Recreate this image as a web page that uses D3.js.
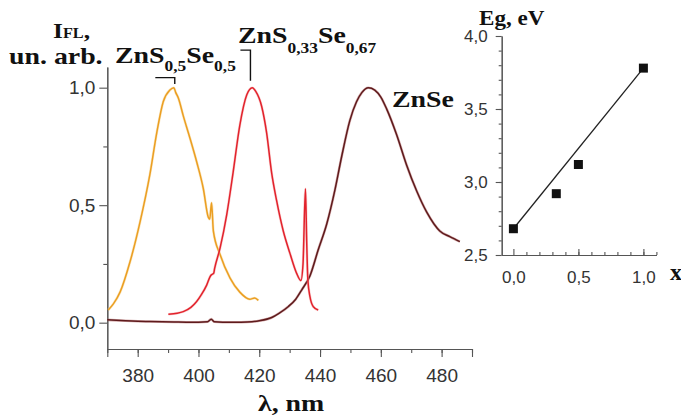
<!DOCTYPE html>
<html lang="en">
  <head>
    <meta charset="UTF-8" />
    <title>ZnS(x)Se(1-x) photoluminescence</title>
    <script src="https://cdn.jsdelivr.net/npm/d3@7"></script>
    <style>
      body { margin: 0; background: #fff; }
      .tick text { font-family: "Liberation Sans", Arial, sans-serif; fill: #333; }
      .lbl { font-family: "Liberation Serif", "Times New Roman", serif; font-weight: bold; fill: #111; }
    </style>
  </head>
  <body>
    <svg width="681" height="419"></svg>
    <script>
      // spectra: wavelength (nm) and normalised intensity
      var orangeNm = [370.3, 372, 374.2, 377.5, 380.8, 384.0, 386.3, 388.4, 390.6, 391.9, 392.5, 393.4, 395.0, 397.2, 399.4, 401.6, 403.2, 403.7, 404.3, 404.9, 407.1, 410.4, 413.6, 416.9, 418.5, 419.7]
      var orangeI = [0.054, 0.08, 0.13, 0.26, 0.43, 0.63, 0.81, 0.94, 0.99, 1.0, 0.98, 0.955, 0.88, 0.785, 0.685, 0.57, 0.45, 0.44, 0.51, 0.39, 0.29, 0.19, 0.13, 0.10, 0.105, 0.095]

      var redNm = [390.1, 393, 395.0, 397.5, 399.4, 401, 402.7, 404.0, 404.4, 405.0, 405.3, 407.1, 409.3, 411.4, 413.6, 415.9, 417.7, 418.8, 420.8, 422.4, 424.1, 425.7, 427.9, 430.1, 432.3, 433.7, 434.4, 435.2, 435.6, 436.0, 436.7, 437.8, 439.4]
      var redI = [0.036, 0.04, 0.047, 0.065, 0.09, 0.12, 0.16, 0.2, 0.205, 0.21, 0.23, 0.317, 0.46, 0.64, 0.84, 0.97, 1.0, 0.985, 0.92, 0.81, 0.635, 0.52, 0.39, 0.295, 0.21, 0.179, 0.25, 0.57, 0.35, 0.18, 0.11, 0.068, 0.054]

      var znseNm = [370, 373, 376, 380, 384, 388, 392, 396, 400, 403, 404.2, 405.2, 408, 412, 416, 420, 424.1, 426.5, 429.5, 432, 434.0, 436.7, 439.4, 442.2, 444.9, 447.1, 449.8, 452, 453.8, 455.9, 458.0, 460, 461.9, 465.2, 468.5, 471.8, 475.1, 477.5, 479.4, 482.7, 486.0]
      var znseI = [0.012, 0.01, 0.008, 0.006, 0.005, 0.004, 0.003, 0.002, 0.002, 0.004, 0.015, 0.004, 0.002, 0.002, 0.003, 0.008, 0.022, 0.04, 0.068, 0.1, 0.14, 0.2, 0.31, 0.42, 0.565, 0.706, 0.86, 0.94, 0.98, 1.0, 0.99, 0.96, 0.91, 0.80, 0.67, 0.56, 0.47, 0.42, 0.39, 0.366, 0.345]

      // inset: band gap vs composition x
      var egX = [0, 0.33, 0.5, 1.0]
      var egY = [2.68, 2.92, 3.12, 3.78]
      var fitX = [0, 1.0]
      var fitY = [2.68, 3.78]

      var mainXTicks = [380, 400, 420, 440, 460, 480]
      var mainYTicks = [0, 0.5, 1.0]
      var insetXTicks = [0, 0.5, 1.0]
      var insetYTicks = [2.5, 3.0, 3.5, 4.0]

      var svg = d3.select('svg')
      var comma = d3.formatLocale({ decimal: ',', thousands: ' ', grouping: [3], currency: ['', ''] }).format('.1f')

      // ---- main plot ----
      var x = d3.scaleLinear().domain([370, 490]).range([107.3, 472])
      var y = d3.scaleLinear().domain([-0.112, 1.088]).range([349, 67])

      function styleAxis(g) {
        g.selectAll('path, line').attr('stroke', '#555').attr('stroke-width', 1.1)
      }

      svg.append('g')
        .attr('transform', 'translate(0,349)')
        .call(d3.axisBottom(x).tickValues(d3.range(370, 491, 10)).tickSize(4).tickSizeOuter(0).tickFormat(''))
        .call(styleAxis)
      svg.append('g')
        .attr('transform', 'translate(0,349)')
        .call(d3.axisBottom(x).tickValues(mainXTicks).tickSize(8).tickPadding(12).tickFormat(d3.format('d')))
        .call(styleAxis)
        .selectAll('text').style('font-size', '19px')

      svg.append('g')
        .attr('transform', 'translate(107.3,0)')
        .call(d3.axisLeft(y).tickValues([0.25, 0.75]).tickSize(4).tickSizeOuter(0).tickFormat(''))
        .call(styleAxis)
      svg.append('g')
        .attr('transform', 'translate(107.3,0)')
        .call(d3.axisLeft(y).tickValues(mainYTicks).tickSize(8).tickPadding(4).tickSizeOuter(0).tickFormat(comma))
        .call(styleAxis)
        .selectAll('text').style('font-size', '19px')

      var line = d3.line()
        .x(function(d) { return x(d[0]) })
        .y(function(d) { return y(d[1]) })
        .curve(d3.curveMonotoneX)

      var spectra = [
        { nm: znseNm, I: znseI, color: '#5e1a1c', halo: '#b06060' },
        { nm: orangeNm, I: orangeI, color: '#eb9e22', halo: '#f6d080' },
        { nm: redNm, I: redI, color: '#e2222c', halo: '#f4a0a0' }
      ]
      spectra.forEach(function(s) {
        var pts = d3.zip(s.nm, s.I)
        svg.append('path').attr('d', line(pts)).attr('fill', 'none')
          .attr('stroke', s.halo).attr('stroke-width', 2.6).attr('stroke-opacity', 0.5)
        svg.append('path').attr('d', line(pts)).attr('fill', 'none')
          .attr('stroke', s.color).attr('stroke-width', 1.5)
      })

      // bracket pointers for the labels
      var bracket = d3.line().x(function(d) { return x(d[0]) }).y(function(d) { return y(d[1]) })
      svg.append('path').attr('d', bracket([[385.8, 1.043], [392.2, 1.043], [392.2, 1.016]]))
        .attr('fill', 'none').attr('stroke', '#111').attr('stroke-width', 1.4)
      svg.append('path').attr('d', bracket([[413.8, 1.16], [417.1, 1.16], [417.1, 1.029]]))
        .attr('fill', 'none').attr('stroke', '#111').attr('stroke-width', 1.4)

      // labels (serif, slightly wide)
      function label(px, py, size, parts) {
        var t = svg.append('text').attr('class', 'lbl')
          .attr('transform', 'translate(' + px + ',' + py + ') scale(1.16,1)')
          .style('font-size', size + 'px')
        parts.forEach(function(p) {
          t.append('tspan').text(p[0])
            .style('font-size', (p[1] || size) + 'px')
            .attr('dy', p[2] || 0)
        })
      }
      label(53, 38, 22, [['I'], ['FL', 14, 0], [',', 22, 0]])
      label(9, 64, 24, [['un. arb.']])
      label(115, 63, 24, [['ZnS'], ['0,5', 15, 8], ['Se', 24, -8], ['0,5', 15, 8]])
      label(238, 43, 24, [['ZnS'], ['0,33', 15, 10], ['Se', 24, -10], ['0,67', 15, 10]])
      label(392, 107, 24, [['ZnSe']])
      label(258, 411, 24, [['\u03bb, nm']])

      // ---- inset ----
      var ix = d3.scaleLinear().domain([-0.09, 1.1]).range([501.7, 656.4])
      var iy = d3.scaleLinear().domain([2.5, 4.0]).range([255, 36])

      svg.append('g')
        .attr('transform', 'translate(0,255)')
        .call(d3.axisBottom(ix).tickValues(d3.range(1, 12).map(function(i) { return i / 10 })).tickSize(-3).tickSizeOuter(0).tickFormat(''))
        .call(styleAxis)
      svg.append('g')
        .attr('transform', 'translate(0,255)')
        .call(d3.axisBottom(ix).tickValues(insetXTicks).tickSizeInner(-6).tickSizeOuter(0).tickPadding(16).tickFormat(comma))
        .call(styleAxis)
        .selectAll('text').style('font-size', '17px')

      svg.append('g')
        .attr('transform', 'translate(501.7,0)')
        .call(d3.axisLeft(iy).tickValues(d3.range(26, 40).map(function(i) { return i / 10 })).tickSize(3).tickSizeOuter(0).tickFormat(''))
        .call(styleAxis)
      svg.append('g')
        .attr('transform', 'translate(501.7,0)')
        .call(d3.axisLeft(iy).tickValues(insetYTicks).tickSize(6).tickPadding(8).tickSizeOuter(0).tickFormat(comma))
        .call(styleAxis)
        .selectAll('text').style('font-size', '17px')

      svg.append('path')
        .attr('d', d3.line().x(function(d) { return ix(d[0]) }).y(function(d) { return iy(d[1]) })(d3.zip(fitX, fitY)))
        .attr('fill', 'none').attr('stroke', '#222').attr('stroke-width', 1.3)

      svg.selectAll('.pt')
        .data(d3.zip(egX, egY))
        .enter()
        .append('path')
        .attr('class', 'pt')
        .attr('d', d3.symbol(d3.symbolSquare, 81))
        .attr('transform', function(d) { return 'translate(' + ix(d[0]) + ',' + iy(d[1]) + ')' })
        .attr('fill', '#111')

      svg.append('text').attr('class', 'lbl')
        .attr('transform', 'translate(479,25) scale(1.05,1)')
        .style('font-size', '22px').text('Eg, eV')
      svg.append('text').attr('class', 'lbl')
        .attr('x', 670).attr('y', 280)
        .style('font-size', '24px').text('x')
    </script>
  </body>
</html>
